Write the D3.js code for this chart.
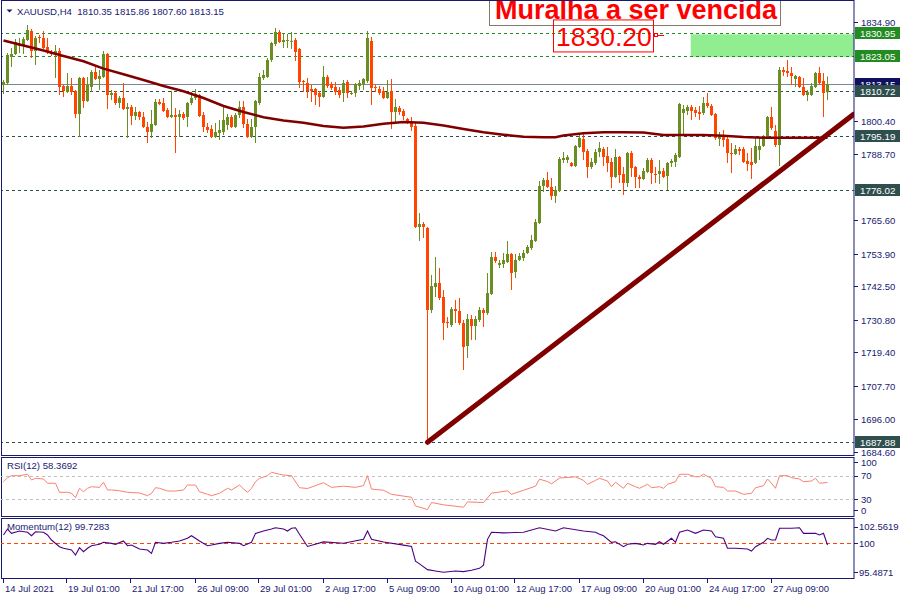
<!DOCTYPE html>
<html><head><meta charset="utf-8">
<script src="https://cdn.jsdelivr.net/npm/d3@7"></script>
<style>body{margin:0;background:#fff}svg{display:block}text{font-family:"Liberation Sans",Arial,sans-serif}</style>
</head><body><svg id="c" width="900" height="600"></svg>
<script>
// ---------- DATA ----------
const symbolTitle = "XAUUSD,H4  1810.35 1815.86 1807.60 1813.15";
const opens = [1812.87,1813.57,1822.66,1823.71,1826.51,1826.86,1828.61,1831.76,1824.76,1829.66,1829.31,1826.16,1824.41,1823.71,1824.76,1812.52,1810.42,1812.52,1810.77,1802.72,1815.32,1807.27,1812.17,1817.41,1814.97,1815.67,1823.71,1809.37,1810.07,1806.57,1808.32,1804.47,1805.17,1802.02,1803.42,1801.67,1798.18,1796.43,1798.87,1806.92,1806.57,1804.12,1801.67,1802.37,1801.67,1802.72,1801.67,1806.57,1808.32,1809.37,1802.37,1798.18,1797.48,1794.68,1796.08,1796.43,1798.87,1801.67,1798.18,1802.37,1805.17,1799.22,1794.68,1798.18,1806.57,1815.32,1815.67,1821.61,1827.21,1831.41,1827.91,1828.26,1828.26,1828.61,1825.46,1814.27,1813.57,1811.47,1811.47,1810.07,1808.67,1815.67,1813.22,1812.17,1811.12,1810.07,1813.92,1809.72,1810.07,1812.52,1813.22,1814.27,1828.26,1812.17,1811.47,1810.77,1808.32,1810.77,1803.42,1804.82,1803.77,1800.97,1800.27,1798.53,1763.20,1764.24,1762.85,1734.16,1742.21,1743.61,1738.71,1729.96,1728.91,1734.51,1733.81,1729.61,1721.57,1731.01,1728.57,1730.66,1734.16,1733.11,1739.76,1752.70,1749.90,1750.25,1750.95,1753.75,1747.45,1751.65,1752.35,1754.10,1755.85,1758.30,1764.59,1777.54,1779.64,1777.19,1774.04,1775.79,1786.63,1786.63,1785.58,1784.53,1791.18,1793.98,1789.78,1784.18,1785.58,1789.43,1790.48,1788.03,1785.93,1780.69,1787.68,1781.73,1778.59,1789.08,1784.18,1780.69,1779.99,1782.43,1786.63,1781.73,1781.73,1782.78,1781.04,1785.58,1785.93,1787.68,1803.07,1803.77,1805.17,1804.12,1803.42,1803.07,1806.57,1805.52,1802.72,1793.98,1795.03,1793.98,1789.08,1788.73,1790.48,1790.48,1786.28,1785.93,1785.58,1790.13,1791.53,1794.68,1801.67,1796.78,1791.88,1818.11,1817.76,1817.06,1814.97,1815.67,1812.17,1809.37,1809.37,1812.17,1817.06,1814.27,1810.35];
const highs = [1814.62,1824.06,1825.81,1828.96,1829.31,1829.66,1833.85,1832.46,1830.01,1830.36,1831.76,1829.31,1825.11,1826.86,1825.81,1812.87,1817.06,1815.32,1811.12,1815.67,1815.67,1815.67,1818.11,1819.16,1818.11,1824.76,1824.06,1811.12,1810.77,1809.02,1813.57,1806.57,1805.87,1805.17,1803.77,1803.42,1799.92,1804.12,1807.97,1807.97,1808.32,1804.82,1810.77,1804.82,1804.12,1803.42,1806.92,1810.42,1811.47,1809.72,1803.42,1799.57,1798.87,1799.57,1800.62,1805.17,1802.72,1802.37,1803.07,1807.27,1807.27,1800.97,1800.97,1807.62,1817.06,1818.11,1822.31,1827.91,1832.81,1832.11,1831.06,1830.71,1831.41,1829.31,1825.81,1814.62,1815.32,1812.87,1811.82,1810.77,1819.51,1816.36,1813.92,1813.92,1812.17,1814.62,1814.62,1810.77,1813.57,1814.62,1815.32,1831.76,1829.66,1812.87,1812.52,1812.17,1814.62,1814.97,1807.97,1805.52,1804.47,1801.32,1801.67,1799.57,1768.09,1764.94,1763.20,1746.40,1752.70,1748.85,1741.16,1731.71,1735.21,1737.66,1738.36,1730.66,1732.76,1732.41,1732.06,1735.21,1734.86,1747.10,1754.45,1754.45,1751.65,1754.10,1758.30,1754.10,1753.75,1754.10,1755.15,1756.90,1760.40,1765.99,1779.29,1780.34,1782.43,1780.34,1777.54,1787.68,1789.43,1788.38,1785.93,1791.88,1795.38,1795.73,1790.48,1787.33,1790.48,1792.93,1791.18,1791.18,1787.33,1790.48,1788.03,1784.18,1789.43,1789.78,1784.53,1781.38,1783.83,1787.33,1787.33,1784.18,1786.63,1783.83,1785.93,1786.98,1789.08,1806.57,1805.87,1805.87,1805.87,1805.17,1805.52,1808.67,1810.07,1806.22,1803.07,1796.43,1797.13,1795.38,1792.58,1791.88,1791.18,1791.18,1789.08,1790.83,1794.68,1794.33,1795.38,1802.02,1805.17,1798.87,1819.16,1819.16,1821.61,1819.16,1816.36,1816.02,1815.32,1811.12,1813.57,1817.41,1819.16,1817.06,1815.86];
const lows = [1809.72,1812.87,1819.16,1823.36,1824.06,1823.71,1828.26,1822.31,1819.86,1827.56,1825.46,1823.71,1823.01,1815.32,1809.37,1808.67,1810.07,1809.37,1801.32,1794.68,1804.82,1806.92,1810.42,1814.62,1811.12,1815.32,1804.47,1807.62,1805.87,1804.82,1804.12,1794.33,1798.87,1800.62,1800.62,1797.83,1792.58,1794.33,1798.53,1805.87,1803.42,1801.32,1801.32,1789.08,1794.68,1800.62,1798.18,1805.87,1807.62,1801.67,1796.43,1796.08,1794.33,1794.33,1793.63,1795.38,1797.13,1797.83,1797.83,1801.32,1797.83,1794.33,1794.33,1792.58,1805.87,1814.62,1815.32,1820.91,1826.51,1827.56,1825.81,1825.81,1825.46,1821.26,1811.82,1810.42,1808.32,1806.92,1805.87,1805.17,1808.32,1811.82,1811.12,1809.37,1808.32,1806.92,1808.32,1809.37,1808.67,1811.12,1811.12,1813.57,1805.87,1810.42,1809.37,1807.97,1807.97,1797.48,1799.92,1802.37,1800.62,1799.22,1796.78,1762.85,1758.30,1759.35,1687.88,1733.11,1738.71,1737.66,1723.67,1727.87,1728.22,1729.61,1728.91,1713.17,1717.37,1723.67,1723.67,1729.96,1728.22,1732.41,1739.41,1750.60,1748.85,1748.85,1750.60,1741.16,1745.36,1751.30,1751.30,1753.75,1755.15,1757.95,1764.24,1775.44,1776.84,1772.64,1771.59,1775.44,1785.58,1785.58,1784.18,1784.18,1790.83,1786.63,1780.34,1783.48,1784.88,1787.68,1784.53,1782.43,1776.84,1780.34,1778.59,1774.39,1777.19,1780.69,1776.84,1776.84,1779.64,1782.08,1778.24,1778.59,1778.24,1780.34,1776.14,1784.18,1784.18,1787.33,1795.38,1802.37,1800.62,1801.67,1800.62,1802.37,1804.82,1802.02,1793.63,1791.53,1791.18,1785.58,1782.08,1788.38,1788.38,1785.58,1782.78,1779.99,1785.23,1786.63,1791.18,1794.33,1797.13,1791.18,1784.53,1816.02,1815.67,1812.87,1812.17,1811.82,1809.02,1807.27,1809.02,1811.82,1812.87,1801.67,1807.60];
const closes = [1813.92,1823.36,1823.71,1827.91,1826.86,1828.96,1832.11,1824.76,1829.31,1829.31,1825.81,1824.41,1823.71,1824.76,1812.17,1810.77,1812.52,1810.42,1802.72,1815.32,1807.27,1812.87,1817.41,1814.97,1816.02,1823.71,1809.37,1810.07,1806.57,1808.32,1804.47,1805.17,1802.02,1803.42,1801.67,1798.18,1796.43,1799.22,1806.92,1806.22,1803.77,1801.67,1802.37,1801.67,1802.72,1801.32,1806.57,1808.32,1809.72,1802.02,1798.18,1797.13,1794.68,1796.43,1797.13,1800.62,1801.67,1798.18,1802.37,1805.17,1799.22,1794.68,1798.18,1807.27,1815.67,1816.36,1821.61,1827.56,1831.41,1827.91,1828.61,1828.61,1828.31,1824.41,1813.92,1813.92,1810.77,1810.77,1809.37,1808.67,1815.67,1812.52,1811.82,1810.42,1809.37,1813.57,1810.07,1810.07,1813.22,1813.57,1814.97,1829.31,1811.82,1811.82,1810.07,1808.32,1810.42,1803.42,1805.17,1803.42,1802.02,1799.57,1798.18,1763.20,1764.24,1763.20,1734.16,1742.56,1743.61,1738.36,1729.61,1729.61,1734.51,1733.81,1729.61,1721.22,1731.01,1728.57,1731.01,1734.16,1733.11,1740.11,1752.70,1751.30,1750.60,1751.65,1753.75,1747.10,1751.65,1753.05,1754.10,1756.20,1758.65,1764.94,1777.54,1779.64,1777.19,1774.04,1776.14,1786.98,1787.33,1787.68,1784.53,1791.53,1794.33,1789.43,1784.18,1785.93,1789.43,1790.83,1787.68,1785.58,1780.69,1787.68,1781.38,1778.59,1789.08,1783.83,1780.69,1779.99,1782.78,1786.63,1782.08,1781.38,1782.78,1780.69,1785.58,1786.28,1788.38,1806.22,1804.47,1805.17,1803.77,1803.07,1802.72,1806.57,1805.52,1802.37,1794.33,1795.03,1793.63,1789.08,1788.73,1790.48,1789.78,1785.93,1785.23,1784.88,1791.53,1791.53,1794.68,1801.67,1797.83,1791.88,1818.11,1817.41,1817.06,1816.02,1816.02,1812.17,1809.37,1810.42,1812.52,1817.06,1813.57,1810.07,1813.15];

const maIdx  = [0,5,10,15,20,25,30,35,40,45,50,55,60,65,70,75,80,85,90,95,100,105,110,115,120,125,130,135,138,140,145,150,155,160,165,170,175,180,185,190,195,200,206];
const maVals = [1828.43,1826.68,1824.94,1823.01,1821.16,1818.60,1816.64,1814.62,1812.52,1810.66,1808.32,1805.52,1803.42,1801.57,1800.48,1799.64,1798.53,1797.93,1798.31,1799.29,1799.92,1799.68,1798.70,1797.51,1796.36,1795.48,1794.75,1794.57,1794.57,1795.20,1796.01,1796.32,1796.32,1796.22,1795.38,1795.38,1795.38,1795.10,1794.68,1794.43,1794.43,1794.43,1794.43];

const rsiIdx  = [0,1,2,4,6,7,8,10,11,13,14,16,17,18,19,20,21,22,24,25,26,27,29,31,34,36,37,38,39,41,43,45,46,48,49,51,52,54,56,57,59,60,61,62,63,64,66,67,69,70,72,74,76,80,82,85,88,90,91,92,95,97,100,102,103,106,107,110,115,116,120,121,122,126,127,130,133,134,136,137,139,143,145,146,148,149,151,152,153,155,156,158,159,161,162,164,165,166,168,169,171,173,174,175,177,178,180,181,183,185,187,188,190,191,192,193,194,196,197,199,200,202,203,204,206];
const rsiVals = [59.7,66.6,70,70,72.4,62.6,65.5,64.3,57,57,41.5,41.5,39.8,32.2,48.4,42.5,48.4,51.1,50,58.7,45.5,45.5,44.3,41.5,40.3,35.7,39.8,49.4,48.4,43.7,43.7,45.5,54,54,42.5,38.1,35.7,39.8,48.4,45.5,54,47.2,41.5,48.4,59.7,65.5,70,75.8,72.4,71.2,70,49.4,48,58,50,52,50,53,70,47,45,38,35,33,18,12,24,20,16,25,24,32,40,44,38,45,52,64,60,56,66,68,62,55,62,65.5,60.9,51.1,58.7,48.4,57,51.1,48.4,55.2,49.4,51.1,48.4,55.2,59.7,72.4,72.4,68.3,68.3,72.4,65.5,51.1,50,43.7,43.7,38.1,39.8,49.4,52.8,64.3,57,48.4,70,70,66.6,64.3,59.7,60.9,65.5,57,58.37];

const momIdx  = [0,1,2,4,6,7,8,10,11,12,14,15,17,18,19,20,21,22,24,25,27,28,30,31,32,34,36,37,38,40,42,44,46,47,49,51,52,54,56,59,60,62,63,65,67,68,70,71,72,73,74,76,80,85,90,91,92,95,100,102,103,104,106,108,110,113,115,117,119,120,121,122,125,130,134,138,140,145,148,149,150,152,153,155,156,158,160,161,163,164,165,167,168,169,171,173,175,177,178,180,181,183,186,187,188,190,191,192,193,194,197,199,200,203,204,205,206];
const momVals = [101.27,102.2,101.53,101.89,101.69,101.16,101.78,101.69,101.27,100.5,99.46,99.21,98.95,98.17,99.3,98.68,99.21,99.61,99.83,100.14,99.98,99.83,100.34,99.61,99.72,99.1,98.95,98.43,100.14,99.98,100.14,100.34,100.76,101.16,100.34,99.61,99.72,99.98,100.14,99.98,99.61,100.14,101.53,101.89,102.2,102.4,102.2,101.89,102.31,102.4,101.38,99.5,100.2,100,100.6,101.9,100.6,100.2,99.7,99.5,97.2,96.8,95.9,95.7,95.49,95.7,95.6,95.8,96.1,96.6,100.6,101.7,101.6,101.7,102.4,101.9,102.4,101.9,101.7,101.38,101.16,100.14,100.23,99.46,99.83,99.98,99.72,99.98,99.83,100.23,99.83,100.76,100.14,101.69,102.05,101.53,102.05,101.89,101.0,100.76,99.21,99.21,99.1,98.79,99.46,100.14,100.76,100.5,100.5,102.31,102.31,102.4,101.53,101.53,101.27,101.53,99.73];

const priceTicks = [1834.90,1800.40,1788.70,1765.60,1753.90,1742.50,1730.80,1719.40,1707.70,1696.00,1684.60];
const greenLevels = [1830.95,1823.05];
const darkLevels = [1810.72,1795.19,1776.02,1687.88];
const bidPrice = 1813.15;
const zonePrices = [1830.95,1823.05];
const zoneStartIdx = 171.8;
const trendPts = [[106,1687.88],[212.6,1802.7]];
const noteTitle = "Muralha a ser vencida";
const notePrice = 1830.20;
const timeIdx = [0,16,32,48,64,80,96,112,128,144,160,176,192];
const timeLabels = ["14 Jul 2021","19 Jul 01:00","21 Jul 17:00","26 Jul 09:00","29 Jul 01:00","2 Aug 17:00","5 Aug 09:00","10 Aug 01:00","12 Aug 17:00","17 Aug 09:00","20 Aug 01:00","24 Aug 17:00","27 Aug 09:00"];
const rsiLevels = [70,30];
const rsiAxis = [100,70,30,0];
const rsiLabel = "RSI(12) 58.3692";
const momLevel = 100;
const momAxis = [102.5619,100,95.4871];
const momLabel = "Momentum(12) 99.7283";

// ---------- DRAW ----------
const NAVY = "#191970", BULL = "#6B8E23", BEAR = "#FF4500";
const svg = d3.select("#c");
svg.append("rect").attr("width",900).attr("height",600).attr("fill","#fff");
const PR = 854;
const x = d3.scaleLinear().domain([0,206]).range([3.5,827.5]);
const y = d3.scaleLinear().domain([1684.60,1834.90]).range([451.7,22]);
const yR = d3.scaleLinear().domain([0,100]).range([516.5,458.2]);
const yM = d3.scaleLinear().domain([95.4871,102.5619]).range([572.3,526.7]);

const defs = svg.append("defs");
defs.append("clipPath").attr("id","mainClip").append("rect").attr("x",1).attr("y",1).attr("width",PR-1).attr("height",455);
defs.append("clipPath").attr("id","rsiClip").append("rect").attr("x",1).attr("y",458).attr("width",PR-1).attr("height",58);
defs.append("clipPath").attr("id","momClip").append("rect").attr("x",1).attr("y",519).attr("width",PR-1).attr("height",59);

const main = svg.append("g").attr("clip-path","url(#mainClip)");
main.append("rect").attr("x",x(zoneStartIdx)).attr("y",y(zonePrices[0])+1)
  .attr("width",PR-x(zoneStartIdx)).attr("height",y(zonePrices[1])-y(zonePrices[0])).attr("fill","#90EE90");
main.append("line").attr("x1",0).attr("x2",PR).attr("y1",Math.round(y(bidPrice))+0.5).attr("y2",Math.round(y(bidPrice))+0.5)
  .attr("stroke","#778899").attr("stroke-width",1.2);
main.selectAll(".lg").data(greenLevels).join("line").attr("x1",0).attr("x2",PR)
  .attr("y1",d=>Math.round(y(d))+0.5).attr("y2",d=>Math.round(y(d))+0.5)
  .attr("stroke","#228B22").attr("stroke-dasharray","3,3");
main.selectAll(".ld").data(darkLevels).join("line").attr("x1",0).attr("x2",PR)
  .attr("y1",d=>Math.round(y(d))+0.5).attr("y2",d=>Math.round(y(d))+0.5)
  .attr("stroke","#2F4F4F").attr("stroke-dasharray","3,3");
const idx = d3.range(opens.length);
main.selectAll(".wick").data(idx).join("line")
  .attr("x1",i=>x(i)).attr("x2",i=>x(i)).attr("y1",i=>y(highs[i])).attr("y2",i=>y(lows[i]))
  .attr("stroke",i=>closes[i]>=opens[i]?BULL:BEAR).attr("stroke-width",1);
main.selectAll(".body").data(idx).join("rect")
  .attr("x",i=>x(i)-1.5).attr("width",3)
  .attr("y",i=>y(Math.max(opens[i],closes[i])))
  .attr("height",i=>Math.max(1,Math.abs(y(opens[i])-y(closes[i]))))
  .attr("fill",i=>closes[i]>=opens[i]?BULL:BEAR);
main.append("path").datum(maIdx.map((d,k)=>[d,maVals[k]]))
  .attr("d",d3.line().x(d=>x(d[0])).y(d=>y(d[1])))
  .attr("fill","none").attr("stroke","#800000").attr("stroke-width",2.5);
main.append("path").datum(trendPts).attr("d",d3.line().x(d=>x(d[0])).y(d=>y(d[1])))
  .attr("stroke","#800000").attr("stroke-width",5).attr("stroke-linecap","round").attr("fill","none");
main.append("rect").attr("x",489.5).attr("y",-10).attr("width",291).attr("height",35.5)
  .attr("fill","none").attr("stroke","#85786a").attr("stroke-width",1);
main.append("text").attr("x",495).attr("y",18.5).text(noteTitle)
  .attr("font-size",27).attr("font-weight","bold").attr("fill","#FF0000");
const ny = y(notePrice);
main.append("rect").attr("x",553.5).attr("y",ny-15.5).attr("width",100).attr("height",32)
  .attr("fill","none").attr("stroke","#FF0000").attr("stroke-width",1);
main.append("text").attr("x",556).attr("y",ny+11).text(notePrice.toFixed(2))
  .attr("font-size",26.5).attr("fill","#FF0000");
main.append("rect").attr("x",654.5).attr("y",Math.round(ny)-1.5).attr("width",3).attr("height",3)
  .attr("fill","#fff").attr("stroke","#FF0000");
main.append("line").attr("x1",658).attr("x2",664).attr("y1",Math.round(ny)+0.5).attr("y2",Math.round(ny)+0.5).attr("stroke","#FF0000");
svg.append("path").attr("d","M6.5,9.5 L12.5,9.5 L9.5,12.5 Z").attr("fill",NAVY);
svg.append("text").attr("x",17).attr("y",14.5).text(symbolTitle).attr("font-size",9.6).attr("fill",NAVY).style("white-space","pre");

const border = (y0,y1)=>svg.append("rect").attr("x",1.5).attr("y",y0+0.5).attr("width",PR-1.5).attr("height",y1-y0)
  .attr("fill","none").attr("stroke",NAVY).attr("stroke-width",1);
border(0,455); border(457,516); border(518,578);

const pax = svg.append("g");
priceTicks.forEach(p=>{
  const yy = Math.round(y(p))+0.5;
  pax.append("line").attr("x1",PR).attr("x2",PR+4).attr("y1",yy).attr("y2",yy).attr("stroke",NAVY);
  pax.append("text").attr("x",861).attr("y",yy+3.5).text(p.toFixed(2)).attr("font-size",9.5).attr("fill",NAVY);
});
function priceBox(p,fill){
  const yy = Math.round(y(p));
  pax.append("rect").attr("x",855).attr("y",yy-6).attr("width",45).attr("height",12).attr("fill",fill);
  pax.append("text").attr("x",860).attr("y",yy+3.5).text(p.toFixed(2)).attr("font-size",9.8).attr("fill","#fff");
}
priceBox(bidPrice,"#101060");
greenLevels.forEach(p=>priceBox(p,"#228B22"));
darkLevels.forEach(p=>priceBox(p,"#2F4F4F"));

const rsiG = svg.append("g").attr("clip-path","url(#rsiClip)");
rsiG.selectAll("line").data(rsiLevels).join("line").attr("x1",0).attr("x2",PR)
  .attr("y1",d=>Math.round(yR(d))+0.5).attr("y2",d=>Math.round(yR(d))+0.5)
  .attr("stroke","#C0C0C0").attr("stroke-dasharray","3,3");
rsiG.append("path").datum(rsiIdx.map((d,k)=>[d,rsiVals[k]]))
  .attr("d",d3.line().x(d=>x(d[0])).y(d=>yR(d[1]))).attr("fill","none").attr("stroke","#FA8072").attr("stroke-width",1);
svg.append("text").attr("x",7).attr("y",469).text(rsiLabel).attr("font-size",9.6).attr("fill",NAVY);
rsiAxis.forEach(v=>{
  const yy = Math.min(Math.max(yR(v),462),510);
  svg.append("line").attr("x1",PR).attr("x2",PR+4).attr("y1",Math.round(yy)+0.5).attr("y2",Math.round(yy)+0.5).attr("stroke",NAVY);
  svg.append("text").attr("x",861).attr("y",yy+3.5).text(v).attr("font-size",9.5).attr("fill",NAVY);
});

const momG = svg.append("g").attr("clip-path","url(#momClip)");
momG.append("line").attr("x1",0).attr("x2",PR).attr("y1",Math.round(yM(momLevel))+0.5).attr("y2",Math.round(yM(momLevel))+0.5)
  .attr("stroke","#FF4500").attr("stroke-dasharray","4,3");
momG.append("path").datum(momIdx.map((d,k)=>[d,momVals[k]]))
  .attr("d",d3.line().x(d=>x(d[0])).y(d=>yM(d[1]))).attr("fill","none").attr("stroke","#4B0082").attr("stroke-width",1.1);
svg.append("text").attr("x",7).attr("y",530).text(momLabel).attr("font-size",9.6).attr("fill",NAVY);
momAxis.forEach(v=>{
  const yy = yM(v);
  svg.append("line").attr("x1",PR).attr("x2",PR+4).attr("y1",Math.round(yy)+0.5).attr("y2",Math.round(yy)+0.5).attr("stroke",NAVY);
  svg.append("text").attr("x",859).attr("y",yy+3.5).text(v).attr("font-size",9.5).attr("fill",NAVY);
});

timeIdx.forEach((t,k)=>{
  const xx = Math.round(x(t))-0.5;
  svg.append("line").attr("x1",xx).attr("x2",xx).attr("y1",578).attr("y2",583).attr("stroke",NAVY);
  svg.append("text").attr("x",xx+1.5).attr("y",592).text(timeLabels[k]).attr("font-size",9.5).attr("fill",NAVY);
});
</script></body></html>
